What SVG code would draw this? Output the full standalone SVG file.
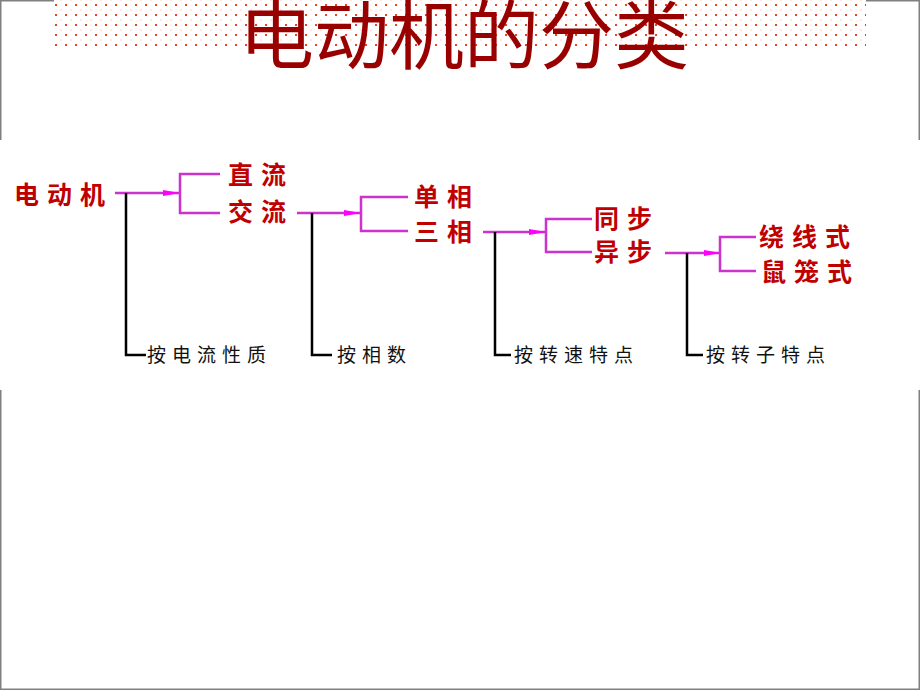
<svg xmlns="http://www.w3.org/2000/svg" width="920" height="690" viewBox="0 0 920 690">
<defs>
<pattern id="dots" x="55" y="4" width="10" height="10" patternUnits="userSpaceOnUse">
<rect x="0" y="0" width="2" height="2" fill="#f04020"/>
<rect x="5.5" y="5.5" width="1" height="1" fill="#ff9a80"/>
</pattern>
<marker id="arr" viewBox="0 0 17 8" refX="16" refY="4" markerWidth="17" markerHeight="8" orient="auto" markerUnits="userSpaceOnUse" preserveAspectRatio="none">
<path d="M0,1 L17,4 L0,7 Z" fill="#ff00ff"/>
</marker>
<style>
.node{font-family:"Noto Sans CJK SC","Noto Sans CJK TC",sans-serif;font-size:25px;font-weight:bold;fill:#c00000;letter-spacing:8px}
.crit{font-family:"Noto Sans CJK SC","Noto Sans CJK TC",sans-serif;font-size:19px;fill:#111;letter-spacing:6px}
.pink{fill:none;stroke:#cc33cc;stroke-width:2.5}
.black{fill:none;stroke:#000;stroke-width:2.5}
.border{stroke:#808080;stroke-width:1.5;fill:none}
</style>
</defs>
<rect width="920" height="690" fill="#fff"/>
<rect x="54" y="0" width="812" height="48" fill="url(#dots)"/>
<path class="border" d="M0.75,0 V140 M0.75,390 V690 M919.25,0 V140 M919.25,390 V690 M0,0.75 H54 M866,0.75 H920 M0,689.25 H920"/>
<text id="title" x="464" y="63" text-anchor="middle" font-family="Noto Sans CJK SC, sans-serif" font-size="75" font-weight="400" fill="#990000">电动机的分类</text>

<g id="connectors">
<path class="pink" d="M115,193 H179" marker-end="url(#arr)"/>
<path class="pink" d="M220,174 H180 V213 H220"/>
<path class="pink" d="M297,213 H360" marker-end="url(#arr)"/>
<path class="pink" d="M408,197 H361 V231 H408"/>
<path class="pink" d="M483,232 H545" marker-end="url(#arr)"/>
<path class="pink" d="M592,219 H546 V252 H592"/>
<path class="pink" d="M665,253 H720" marker-end="url(#arr)"/>
<path class="pink" d="M756,237 H720 V271 H756"/>
<path class="black" d="M126,193 V355 H146"/>
<path class="black" d="M312,213 V355 H332"/>
<path class="black" d="M495,232 V355 H511"/>
<path class="black" d="M687,253 V355 H703"/>
</g>

<g id="n-motor"><text class="node" x="14" y="204">电动机</text></g>
<g id="n-dc"><text class="node" x="228" y="184">直流</text></g>
<g id="n-ac"><text class="node" x="228" y="221">交流</text></g>
<g id="n-single"><text class="node" x="414" y="206">单相</text></g>
<g id="n-three"><text class="node" x="414" y="241">三相</text></g>
<g id="n-sync"><text class="node" x="594" y="228">同步</text></g>
<g id="n-async"><text class="node" x="594" y="261">异步</text></g>
<g id="n-wound"><text class="node" x="759" y="246">绕线式</text></g>
<g id="n-squirrel"><text class="node" x="761" y="281">鼠笼式</text></g>

<g id="c-current"><text class="crit" x="147" y="362">按电流性质</text></g>
<g id="c-phase"><text class="crit" x="337" y="362">按相数</text></g>
<g id="c-speed"><text class="crit" x="514" y="362">按转速特点</text></g>
<g id="c-rotor"><text class="crit" x="706" y="362">按转子特点</text></g>
</svg>
